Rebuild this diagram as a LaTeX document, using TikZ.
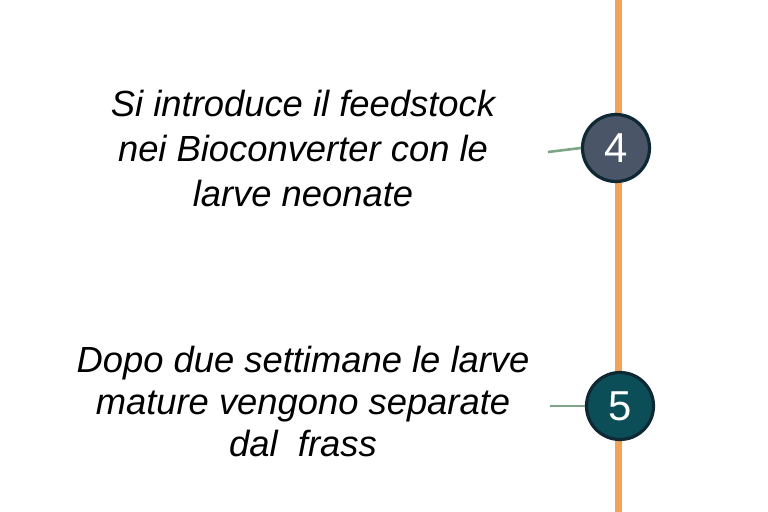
\documentclass[tikz,border=0pt]{standalone}
\usepackage{fontspec}
\setmainfont{Liberation Sans}
\definecolor{orangeline}{RGB}{242,163,88}
\definecolor{rimcol}{RGB}{14,40,52}
\definecolor{fillfour}{RGB}{74,85,104}
\definecolor{fillfive}{RGB}{11,78,88}
\definecolor{linkcol}{RGB}{125,165,135}
\tikzset{
  steptext/.style={anchor=base, inner sep=0pt, font=\itshape\fontsize{36.5}{44}\selectfont, text=black},
  stepcircle/.style={circle, draw=rimcol, line width=3.2bp, minimum size=67bp, inner sep=0pt, text=white, font=\fontsize{42}{42}\selectfont},
  linkline/.style={draw=linkcol, line width=2.6bp},
}
\begin{document}
\begin{tikzpicture}[x=1bp,y=-1bp]
\useasboundingbox (0,0) rectangle (768,512);
\coordinate (ltop) at (618,0);
\coordinate (lbot) at (618,512);
\draw[orangeline, line width=7bp] (ltop) -- (lbot);

\node[steptext] (a1) at (303,117) {Si introduce il feedstock};
\node[steptext] (a2) at (303,162) {nei Bioconverter con le};
\node[steptext] (a3) at (303,207) {larve neonate};

\node[steptext] (b1) at (303,372) {Dopo due settimane le larve};
\node[steptext] (b2) at (303,414) {mature vengono separate};
\node[steptext] (b3) at (303,456) {dal~~frass};

\node[stepcircle, fill=fillfour] (c4) at (616,148) {4};
\node[stepcircle, fill=fillfive] (c5) at (620,406) {5};

\coordinate (f4) at (548,152);
\coordinate (f5) at (550,406);
\draw[linkline] (f4) -- (c4.west);
\draw[linkline] (f5) -- (c5.west);
\end{tikzpicture}
\end{document}
